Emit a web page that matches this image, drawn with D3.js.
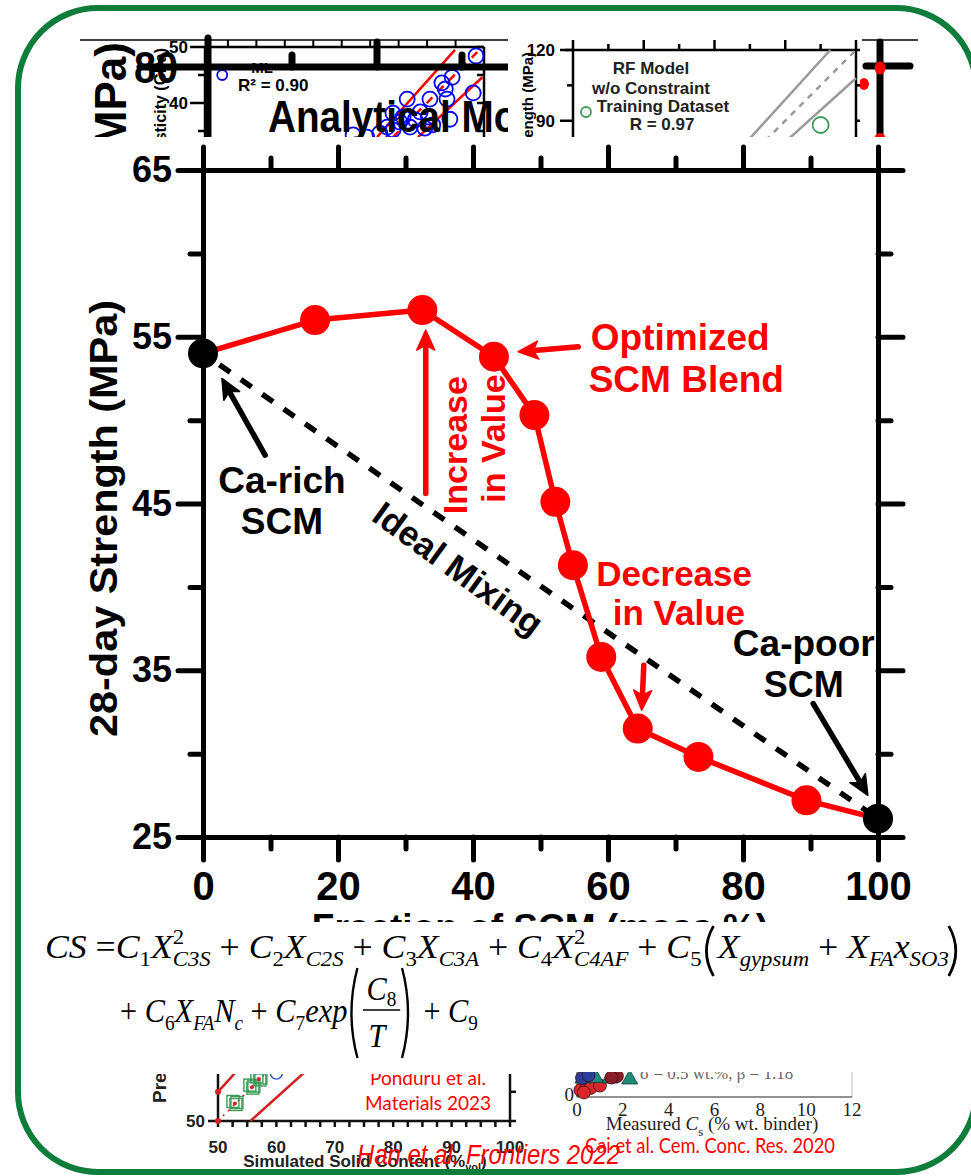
<!DOCTYPE html>
<html>
<head>
<meta charset="utf-8">
<script src="https://cdn.jsdelivr.net/npm/d3@7"></script>
<style>
  html, body { margin: 0; padding: 0; background: #fff; }
  svg { display: block; }
</style>
</head>
<body>
<script>
// ---------- main chart: 28-day strength vs. SCM fraction ----------
const scmFraction = [0, 16.6, 32.5, 43.1, 49.1, 52.2, 54.8, 59.0, 64.4, 73.4, 89.4, 100];
const strength28d = [54.0, 56.0, 56.6, 53.8, 50.3, 45.1, 41.3, 35.8, 31.5, 29.8, 27.2, 26.1];
const xTicksMajor = [0, 20, 40, 60, 80, 100];
const xTicksMinor = [10, 30, 50, 70, 90];
const yTicksMajor = [25, 35, 45, 55, 65];
const yTicksMinor = [30, 40, 50, 60];

// ---------- background panel: analytical model (elasticity) ----------
const elasMeasured  = [48.6, 44.4, 42.6, 43.2, 48.1, 40.5, 43.5, 36.5, 44.0, 40.2, 41.0, 34.0, 35.8, 37.0, 33.0, 34.0, 27.0, 29.4, 4.0, 37.9, 38.8, 35.2, 39.6, 31.7];
const elasPredicted = [48.4, 44.6, 43.6, 42.5, 41.8, 40.7, 40.7, 40.7, 37.1, 37.5, 36.1, 38.2, 37.5, 35.7, 35.7, 35.2, 34.3, 33.9, 45.0, 37.0, 38.4, 36.6, 35.5, 34.6];
const elasTicksTop = [5, 10, 15, 20, 25, 30, 35, 40, 45];

// ---------- background panel: RF model (strength) ----------
const rfMeasured  = [5.5, 105];
const rfPredicted = [93.7, 88.2];
const rfTicksMajor = [30, 60, 90];
const rfTicksMinor = [15, 45, 75, 105];

// ---------- background panel: solid content ----------
const solidSimulated = [52.9, 55.8, 57.0, 60.0];
const solidPredicted = [53.0, 55.8, 57.2, 58.2];
const solidTickLabels = [50, 60, 70, 80, 90, 100];

// ---------- background panel: measured Cs ----------
const csMeasured  = [0.15, 0.4, 0.6, 1.0, 0.3, 0.26, 1.43, 2.3, 0.8, 1.74, 1.5, 0.22, 0.5];
const csPredicted = [0.3, 0.35, 0.4, 0.5, 0.2, 0.87, 0.87, 0.83, 0.9, 0.91, 0.85, 0.83, 0.95];
const csGroup     = ["a", "a", "a", "a", "a", "b", "b", "b", "b", "c", "c", "d", "d"];
const csTickLabels = [0, 2, 4, 6, 8, 10, 12];

const W = 971, H = 1176;
const RED = "#ff0000";
const SANS = "'Liberation Sans', Arial, Helvetica, sans-serif";
const SERIF = "'Liberation Serif', 'Times New Roman', serif";
const CAL = "Lato, 'Open Sans', sans-serif";

const svg = d3.select("body").append("svg")
  .attr("width", W).attr("height", H)
  .style("font-family", SANS);

svg.append("rect").attr("width", W).attr("height", H).attr("fill", "#fff");

const defs = svg.append("defs");
function clip(id, x, y, w, h) {
  defs.append("clipPath").attr("id", id)
    .append("rect").attr("x", x).attr("y", y).attr("width", w).attr("height", h);
}
clip("clipTL", 78, 34, 430, 103);
clip("clipTR", 508, 34, 352, 103);
clip("clipCross", 860, 34, 70, 103);
clip("clipBL", 20, 1074, 520, 102);
clip("clipBR", 540, 1072, 431, 104);

// ======================= top-left panels =======================
(function elasticityPanel() {
  const g = svg.append("g").attr("clip-path", "url(#clipTL)");
  const bx = d3.scaleLinear().domain([1.5, 50]).range([208, 484]);
  const by = d3.scaleLinear().domain([30, 50]).range([159, 47]);

  g.append("line").attr("x1", 205).attr("x2", 484).attr("y1", by(50)).attr("y2", by(50))
    .attr("stroke", "#000").attr("stroke-width", 2.5);
  g.append("line").attr("x1", 484).attr("x2", 484).attr("y1", by(50)).attr("y2", 160)
    .attr("stroke", "#000").attr("stroke-width", 2.5);
  g.append("line").attr("x1", 205).attr("x2", 205).attr("y1", by(50)).attr("y2", 160)
    .attr("stroke", "#000").attr("stroke-width", 2.5);
  g.selectAll("line.tt").data(elasTicksTop).join("line")
    .attr("x1", d => bx(d)).attr("x2", d => bx(d))
    .attr("y1", by(50)).attr("y2", by(50) - 7)
    .attr("stroke", "#000").attr("stroke-width", 2);
  [50, 45, 40, 35].forEach(v => {
    const major = v % 10 === 0;
    g.append("line").attr("x1", major ? 190 : 198).attr("x2", 205)
      .attr("y1", by(v)).attr("y2", by(v)).attr("stroke", "#000").attr("stroke-width", 2.5);
    g.append("line").attr("x1", 484).attr("x2", 477)
      .attr("y1", by(v)).attr("y2", by(v)).attr("stroke", "#000").attr("stroke-width", 2.5);
    if (major) g.append("text").attr("x", 188).attr("y", by(v) + 6).attr("text-anchor", "end")
      .attr("font-size", 17).attr("font-weight", "bold").text(v);
  });
  g.append("text").attr("transform", "translate(166,48) rotate(-90)")
    .attr("text-anchor", "end").attr("font-size", 16).attr("font-weight", "bold")
    .text("Elasticity (GPa)");
  g.append("text").attr("x", 262).attr("y", 73).attr("text-anchor", "middle")
    .attr("font-size", 15).attr("font-weight", "bold").text("ML");
  g.append("text").attr("x", 238).attr("y", 91).attr("font-size", 17).attr("font-weight", "bold")
    .text("R² = 0.90");

  // reference lines
  const ref = [
    { a: [31.2, 33.9], b: [44.9, 49.5], dash: null },
    { a: [34.0, 33.9], b: [48.8, 49.1], dash: "8,8" },
    { a: [38.4, 33.9], b: [49.7, 44.6], dash: null }
  ];
  ref.forEach(r => g.append("line")
    .attr("x1", bx(r.a[0])).attr("y1", by(r.a[1])).attr("x2", bx(r.b[0])).attr("y2", by(r.b[1]))
    .attr("stroke", RED).attr("stroke-width", 2.5).attr("stroke-dasharray", r.dash));

  g.selectAll("circle.e").data(elasMeasured).join("circle")
    .attr("cx", d => bx(d)).attr("cy", (d, i) => by(elasPredicted[i]))
    .attr("r", (d, i) => i === 18 ? 5 : 7.5)
    .attr("fill", "none").attr("stroke", "#0000ff").attr("stroke-width", 1.8);
})();

(function strengthBackdrop() {
  // bold strength panel lying underneath
  const g = svg.append("g").attr("clip-path", "url(#clipTL)");
  g.append("line").attr("x1", 80).attr("x2", 508).attr("y1", 40).attr("y2", 40)
    .attr("stroke", "#000").attr("stroke-width", 1.5);
  g.append("line").attr("x1", 208).attr("x2", 208).attr("y1", 38).attr("y2", 160)
    .attr("stroke", "#000").attr("stroke-width", 7).attr("stroke-linecap", "round");
  g.append("line").attr("x1", 140).attr("x2", 520).attr("y1", 67).attr("y2", 67)
    .attr("stroke", "#000").attr("stroke-width", 7).attr("stroke-linecap", "round");
  [[292, 55], [377, 42], [462, 55]].forEach(([tx, ty]) =>
    g.append("line").attr("x1", tx).attr("x2", tx).attr("y1", ty).attr("y2", 67)
      .attr("stroke", "#000").attr("stroke-width", 7).attr("stroke-linecap", "round"));
  g.append("text").attr("transform", "translate(178,83) scale(0.9,1)").attr("text-anchor", "end")
    .attr("font-size", 44).attr("font-weight", "bold").text("80");
  g.append("text").attr("transform", "translate(126,42) rotate(-90)")
    .attr("text-anchor", "end").attr("font-size", 44).attr("font-weight", "bold")
    .text("(MPa)");
  g.append("text").attr("transform", "translate(268,132) scale(0.86,1)")
    .attr("font-size", 45).attr("font-weight", "bold").text("Analytical Mo");
})();

// ======================= top-right panel =======================
(function rfPanel() {
  const g = svg.append("g").attr("clip-path", "url(#clipTR)");
  const rx = d3.scaleLinear().domain([0, 120]).range([573, 856]);
  const ry = d3.scaleLinear().domain([0, 120]).range([333, 50]);
  const k = "#000";
  g.append("line").attr("x1", 565).attr("x2", 856).attr("y1", 50).attr("y2", 50).attr("stroke", k).attr("stroke-width", 2.5);
  g.append("line").attr("x1", 573).attr("x2", 573).attr("y1", 40).attr("y2", 160).attr("stroke", k).attr("stroke-width", 2.5);
  g.append("line").attr("x1", 856).attr("x2", 856).attr("y1", 40).attr("y2", 160).attr("stroke", k).attr("stroke-width", 2.5);
  g.selectAll("line.mj").data(rfTicksMajor).join("line")
    .attr("x1", d => rx(d)).attr("x2", d => rx(d)).attr("y1", 50).attr("y2", 40)
    .attr("stroke", k).attr("stroke-width", 2.5);
  g.selectAll("line.mn").data(rfTicksMinor).join("line")
    .attr("x1", d => rx(d)).attr("x2", d => rx(d)).attr("y1", 50).attr("y2", 44)
    .attr("stroke", k).attr("stroke-width", 2.5);
  [[120, 13], [105, 6], [90, 13]].forEach(([v, len]) => {
    g.append("line").attr("x1", 573 - len).attr("x2", 573).attr("y1", ry(v)).attr("y2", ry(v)).attr("stroke", k).attr("stroke-width", 2.5);
    g.append("line").attr("x1", 856).attr("x2", 856 + len).attr("y1", ry(v)).attr("y2", ry(v)).attr("stroke", k).attr("stroke-width", 2.5);
  });
  [120, 90].forEach(v => g.append("text").attr("x", 555).attr("y", ry(v) + 6).attr("text-anchor", "end")
    .attr("font-size", 17).attr("font-weight", "bold").text(v));
  g.append("text").attr("transform", "translate(533,52) rotate(-90)")
    .attr("text-anchor", "end").attr("font-size", 15).attr("font-weight", "bold")
    .text("Strength (MPa)");
  [["RF Model", 651, 74], ["w/o Constraint", 651, 94], ["Training Dataset", 663, 112], ["R = 0.97", 662, 130], ["Testing Dataset", 663, 150]]
    .forEach(([t, cx, cy]) => g.append("text").attr("x", cx).attr("y", cy).attr("text-anchor", "middle")
      .attr("font-size", 17).attr("font-weight", "bold").attr("fill", "#222").text(t));
  [[1.1, null], [1.0, "6,6"], [0.9, null]].forEach(([f, dash]) => g.append("line")
    .attr("x1", rx(60)).attr("y1", ry(60 * f)).attr("x2", rx(120 / Math.max(f, 1))).attr("y2", ry(120 / Math.max(f, 1) * f))
    .attr("stroke", "#9a9a9a").attr("stroke-width", 2.5).attr("stroke-dasharray", dash));
  g.selectAll("circle.rf").data(rfMeasured).join("circle")
    .attr("cx", d => rx(d)).attr("cy", (d, i) => ry(rfPredicted[i]))
    .attr("r", (d, i) => i === 0 ? 5 : 8)
    .attr("fill", "none").attr("stroke", "#3f9a5c").attr("stroke-width", 1.8);
})();

(function crossPanel() {
  const g = svg.append("g").attr("clip-path", "url(#clipCross)");
  g.append("line").attr("x1", 862).attr("x2", 918).attr("y1", 40).attr("y2", 40).attr("stroke", "#000").attr("stroke-width", 1.5);
  g.append("line").attr("x1", 880).attr("x2", 880).attr("y1", 42).attr("y2", 160).attr("stroke", "#000").attr("stroke-width", 7).attr("stroke-linecap", "round");
  g.append("line").attr("x1", 866).attr("x2", 910).attr("y1", 66).attr("y2", 66).attr("stroke", "#000").attr("stroke-width", 7).attr("stroke-linecap", "round");
  [[880, 68, 5.5], [864, 84, 5], [880, 140, 6]].forEach(([cx, cy, r]) =>
    g.append("ellipse").attr("cx", cx).attr("cy", cy).attr("rx", r).attr("ry", r + 1).attr("fill", RED));
})();

// ======================= bottom panels =======================
(function solidPanel() {
  const g = svg.append("g").attr("clip-path", "url(#clipBL)");
  const sx = d3.scaleLinear().domain([50, 100]).range([218, 510]);
  const sy = d3.scaleLinear().domain([50, 100]).range([1121, 829]);
  const k = "#111";
  g.append("line").attr("x1", 208).attr("x2", 516).attr("y1", 1121).attr("y2", 1121).attr("stroke", k).attr("stroke-width", 2.5);
  g.append("line").attr("x1", 218).attr("x2", 218).attr("y1", 1050).attr("y2", 1121).attr("stroke", k).attr("stroke-width", 2.5);
  g.append("line").attr("x1", 510).attr("x2", 510).attr("y1", 1050).attr("y2", 1121).attr("stroke", k).attr("stroke-width", 2.5);
  g.append("line").attr("x1", 510).attr("x2", 516).attr("y1", sy(55)).attr("y2", sy(55)).attr("stroke", k).attr("stroke-width", 2.5);
  g.selectAll("line.st").data(d3.range(50, 100.1, 2.5)).join("line")
    .attr("x1", d => sx(d)).attr("x2", d => sx(d)).attr("y1", 1121).attr("y2", 1127)
    .attr("stroke", k).attr("stroke-width", 2.5);
  g.selectAll("text.sl").data(solidTickLabels).join("text")
    .attr("x", d => sx(d)).attr("y", 1153).attr("text-anchor", "middle")
    .attr("font-size", 17).attr("font-weight", "bold").attr("fill", "#222").text(d => d);
  g.append("text").attr("x", 205).attr("y", 1127).attr("text-anchor", "end")
    .attr("font-size", 17).attr("font-weight", "bold").attr("fill", "#222").text("50");
  const xl = g.append("text").attr("x", 365).attr("y", 1167).attr("text-anchor", "middle")
    .attr("font-size", 17).attr("font-weight", "bold").attr("fill", "#222");
  xl.append("tspan").text("Simulated Solid Content (%");
  xl.append("tspan").attr("font-size", 11).attr("dy", 4).text("vol");
  xl.append("tspan").attr("dy", -4).text(")");
  g.append("text").attr("transform", "translate(166,1103) rotate(-90)")
    .attr("font-size", 19).attr("font-weight", "bold").attr("fill", "#222")
    .text("Pred");
  // ±10% bounds and 1:1 line
  [1.1, 0.9].forEach(f => g.append("line")
    .attr("x1", sx(50 / Math.min(f, 1))).attr("y1", sy(50 / Math.min(f, 1) * f))
    .attr("x2", sx(80)).attr("y2", sy(80 * f))
    .attr("stroke", "#d42020").attr("stroke-width", 2.5));
  g.append("line").attr("x1", sx(50)).attr("y1", sy(50)).attr("x2", sx(80)).attr("y2", sy(80))
    .attr("stroke", "#d42020").attr("stroke-width", 1.5).attr("stroke-dasharray", "2,5");
  g.append("circle").attr("cx", sx(50)).attr("cy", sy(50)).attr("r", 3).attr("fill", "#d42020");
  g.append("circle").attr("cx", sx(50)).attr("cy", sy(55)).attr("r", 3).attr("fill", "#d42020");
  solidSimulated.forEach((v, i) => {
    const cx = sx(v), cy = sy(solidPredicted[i]);
    if (i < 3) {
      [[-2, -2], [1, 1], [2, -1]].forEach(([ox, oy]) =>
        g.append("rect").attr("x", cx - 6 + ox).attr("y", cy - 6 + oy).attr("width", 12).attr("height", 12)
          .attr("fill", "none").attr("stroke", "#3a9a55").attr("stroke-width", 1.4));
      g.append("circle").attr("cx", cx).attr("cy", cy).attr("r", 2).attr("fill", "#d42020");
    } else {
      g.append("circle").attr("cx", cx).attr("cy", cy).attr("r", 6).attr("fill", "none").attr("stroke", "#3050c0").attr("stroke-width", 1.4);
    }
  });
  g.append("text").attr("x", 428).attr("y", 1085).attr("text-anchor", "middle")
    .attr("font-family", CAL).attr("font-size", 19).attr("fill", RED).text("Ponduru et al.");
  g.append("text").attr("x", 428).attr("y", 1110).attr("text-anchor", "middle")
    .attr("font-family", CAL).attr("font-size", 19).attr("fill", RED).text("Materials 2023");
})();

(function csPanel() {
  const g = svg.append("g").attr("clip-path", "url(#clipBR)");
  const cx = d3.scaleLinear().domain([0, 12]).range([577, 852]);
  const cy = d3.scaleLinear().domain([0, 12]).range([1097, 822]);
  g.append("rect").attr("x", 577).attr("y", 1000).attr("width", 275).attr("height", 97)
    .attr("fill", "none").attr("stroke", "#c8c8c8").attr("stroke-width", 1.2);
  g.append("line").attr("x1", 577).attr("x2", 852).attr("y1", 1097).attr("y2", 1097).attr("stroke", "#444").attr("stroke-width", 1);
  g.append("line").attr("x1", 577).attr("x2", 577).attr("y1", 1000).attr("y2", 1097).attr("stroke", "#444").attr("stroke-width", 1);
  g.selectAll("text.cl").data(csTickLabels).join("text")
    .attr("x", d => cx(d)).attr("y", 1116).attr("text-anchor", "middle")
    .attr("font-family", SERIF).attr("font-size", 19).attr("fill", "#222").text(d => d);
  g.append("text").attr("x", 574).attr("y", 1101).attr("text-anchor", "end")
    .attr("font-family", SERIF).attr("font-size", 19).attr("fill", "#222").text("0");
  const xl = g.append("text").attr("x", 712).attr("y", 1130).attr("text-anchor", "middle")
    .attr("font-family", SERIF).attr("font-size", 19).attr("fill", "#222");
  xl.append("tspan").text("Measured ");
  xl.append("tspan").attr("font-style", "italic").text("C");
  xl.append("tspan").attr("font-size", 13).attr("dy", 6).text("s");
  xl.append("tspan").attr("dy", -6).text(" (% wt. binder)");
  g.append("text").attr("x", 640).attr("y", 1079).attr("font-family", SERIF).attr("font-size", 17)
    .attr("fill", "#666").text("σ = 0.5 wt.%, β = 1.18");
  const fills = { a: "#d8262b", b: "#1f8a78", c: "#8a1c2a", d: "#2b3f9a" };
  csMeasured.forEach((v, i) => {
    const px = cx(v), py = cy(csPredicted[i]), grp = csGroup[i];
    if (grp === "b") {
      g.append("path").attr("d", `M${px},${py - 8}L${px + 8},${py + 6}L${px - 8},${py + 6}Z`)
        .attr("fill", fills[grp]).attr("stroke", "#0a3a30").attr("stroke-width", 0.8);
    } else {
      g.append("circle").attr("cx", px).attr("cy", py).attr("r", 6.5)
        .attr("fill", fills[grp]).attr("stroke", "#3a0a0a").attr("stroke-width", 0.8);
    }
  });
  g.append("text").attr("x", 585).attr("y", 1153).attr("font-family", CAL).attr("font-size", 21)
    .attr("fill", RED).attr("textLength", 250).attr("lengthAdjust", "spacingAndGlyphs")
    .text("Cai et al. Cem. Conc. Res. 2020");
})();

// ======================= main chart =======================
svg.append("rect").attr("x", 20).attr("y", 137).attr("width", W - 20).attr("height", 785).attr("fill", "#fff");

const x = d3.scaleLinear().domain([0, 100]).range([203, 878]);
const y = d3.scaleLinear().domain([25, 65]).range([837, 170]);
const main = svg.append("g");

function styleAxis(g, fontSize) {
  g.selectAll("path, line").attr("stroke", "#000").attr("stroke-width", 5).attr("stroke-linecap", "round");
  g.selectAll("text").attr("fill", "#000").attr("font-family", SANS)
    .attr("font-size", fontSize).attr("font-weight", "bold");
}
const xAxisY = y(25), yAxisX = x(0), topY = y(65), rightX = x(100);
main.append("g").attr("transform", `translate(0,${xAxisY})`)
  .call(d3.axisBottom(x).tickValues(xTicksMinor).tickSize(12).tickSizeOuter(0).tickFormat(""))
  .call(g => styleAxis(g, 0));
main.append("g").attr("transform", `translate(0,${xAxisY})`)
  .call(d3.axisBottom(x).tickValues(xTicksMajor).tickSize(23).tickSizeOuter(0).tickPadding(12).tickFormat(d3.format("d")))
  .call(g => styleAxis(g, 40));
main.append("g").attr("transform", `translate(0,${topY})`)
  .call(d3.axisTop(x).tickValues(xTicksMinor).tickSize(12).tickSizeOuter(0).tickFormat(""))
  .call(g => styleAxis(g, 0));
main.append("g").attr("transform", `translate(0,${topY})`)
  .call(d3.axisTop(x).tickValues(xTicksMajor).tickSize(23).tickSizeOuter(0).tickFormat(""))
  .call(g => styleAxis(g, 0));
main.append("g").attr("transform", `translate(${yAxisX},0)`)
  .call(d3.axisLeft(y).tickValues(yTicksMinor).tickSize(13).tickSizeOuter(0).tickFormat(""))
  .call(g => styleAxis(g, 0));
main.append("g").attr("transform", `translate(${yAxisX},0)`)
  .call(d3.axisLeft(y).tickValues(yTicksMajor).tickSize(25).tickSizeOuter(0).tickPadding(6).tickFormat(d3.format("d")))
  .call(g => styleAxis(g, 36));
main.append("g").attr("transform", `translate(${rightX},0)`)
  .call(d3.axisRight(y).tickValues(yTicksMinor).tickSize(13).tickSizeOuter(0).tickFormat(""))
  .call(g => styleAxis(g, 0));
main.append("g").attr("transform", `translate(${rightX},0)`)
  .call(d3.axisRight(y).tickValues(yTicksMajor).tickSize(25).tickSizeOuter(0).tickFormat(""))
  .call(g => styleAxis(g, 0));

// axis titles
main.append("text").attr("transform", `translate(117,${(y(25) + y(65)) / 2 + 15}) rotate(-90)`)
  .attr("text-anchor", "middle").attr("font-size", 38).attr("font-weight", "bold")
  .attr("textLength", 437).attr("lengthAdjust", "spacingAndGlyphs")
  .text("28-day Strength (MPa)");
main.append("text").attr("x", 540).attr("y", 940).attr("text-anchor", "middle")
  .attr("font-size", 37).attr("font-weight", "bold").text("Fraction of SCM (mass %)");

// ideal mixing line between the two end members
const last = scmFraction.length - 1;
main.append("line")
  .attr("x1", x(scmFraction[0])).attr("y1", y(strength28d[0]))
  .attr("x2", x(scmFraction[last])).attr("y2", y(strength28d[last]))
  .attr("stroke", "#000").attr("stroke-width", 5.5).attr("stroke-dasharray", "13,13")
  .attr("stroke-dashoffset", -20);

// blend curve
main.append("path")
  .datum(scmFraction.map((f, i) => [f, strength28d[i]]))
  .attr("fill", "none").attr("stroke", RED).attr("stroke-width", 5.5).attr("stroke-linejoin", "round")
  .attr("d", d3.line().x(d => x(d[0])).y(d => y(d[1])));
main.selectAll("circle.pt").data(scmFraction).join("circle")
  .attr("cx", d => x(d)).attr("cy", (d, i) => y(strength28d[i]))
  .attr("r", 15)
  .attr("fill", (d, i) => (i === 0 || i === last) ? "#000" : RED);

// annotation arrows
function arrow(from, to, color) {
  const x1 = x(from[0]), y1 = y(from[1]), x2 = x(to[0]), y2 = y(to[1]);
  const a = Math.atan2(y2 - y1, x2 - x1), c = Math.cos(a), s = Math.sin(a);
  const hl = 20, hw = 9;
  const bx = x2 - hl * c, by = y2 - hl * s;
  main.append("line").attr("x1", x1).attr("y1", y1).attr("x2", x2 - 10 * c).attr("y2", y2 - 10 * s)
    .attr("stroke", color).attr("stroke-width", 5.5).attr("stroke-linecap", "round");
  main.append("path")
    .attr("d", `M${x2},${y2}L${bx - hw * s},${by + hw * c}L${x2 - 0.75 * hl * c},${y2 - 0.75 * hl * s}L${bx + hw * s},${by - hw * c}Z`)
    .attr("fill", color).attr("stroke", color).attr("stroke-width", 1.5).attr("stroke-linejoin", "round");
}
arrow([9.2, 47.9], [2.8, 52.5], "#000");
arrow([33.0, 45.6], [33.0, 55.4], RED);
arrow([55.6, 54.4], [46.7, 54.1], RED);
arrow([65.3, 35.3], [65.0, 32.6], RED);
arrow([90.4, 33.0], [98.5, 27.5], "#000");

// annotation labels
function label(t, fx, fy, color, size, rot) {
  return main.append("text")
    .attr("transform", `translate(${x(fx)},${y(fy)})` + (rot ? ` rotate(${rot})` : ""))
    .attr("text-anchor", "middle").attr("font-size", size).attr("font-weight", "bold")
    .attr("fill", color).text(t);
}
label("Ca-rich", 11.7, 45.6, "#000", 37);
label("SCM", 11.7, 43.2, "#000", 37);
label("Optimized", 70.7, 54.2, RED, 37);
label("SCM Blend", 71.6, 51.7, RED, 37);
label("Decrease", 69.8, 40.05, RED, 35);
label("in Value", 70.5, 37.7, RED, 35);
label("Ca-poor", 89.0, 35.85, "#000", 37);
label("SCM", 89.0, 33.4, "#000", 36);
label("Increase", 39.1, 48.5, RED, 34, -90);
label("in Value", 44.7, 48.9, RED, 34, -90);
label("Ideal Mixing", 37.8, 41.1, "#000", 35, 36).attr("dy", "0.35em");

// ======================= strength equation =======================
svg.append("rect").attr("x", 20).attr("y", 922).attr("width", W - 20).attr("height", 150).attr("fill", "#fff");
const eq = svg.append("g");
const MAIN = 33, SUB = 21;

function paren(g, px, top, bot, open) {
  const w = 11, mid = (top + bot) / 2;
  const xo = open ? px + w : px, xi = open ? px : px + w;
  g.append("path")
    .attr("d", `M${xo},${top}Q${xi - (open ? 2 : -2)},${mid} ${xo},${bot}`)
    .attr("fill", "none").attr("stroke", "#000").attr("stroke-width", 2.6);
  return w + 4;
}

function writeLine(g, x0, base, tokens) {
  let cx = x0;
  function put(t, xx, yy, size, italic) {
    const n = g.append("text").attr("x", xx).attr("y", yy).attr("font-family", SERIF)
      .attr("font-size", size).attr("font-style", italic ? "italic" : "normal")
      .attr("xml:space", "preserve").style("white-space", "pre")
      .attr("fill", "#000").text(t);
    return n.node().getComputedTextLength();
  }
  tokens.forEach(tk => {
    if (tk.m !== undefined) cx += put(tk.m, cx, base, MAIN, true);
    else if (tk.u !== undefined) cx += put(tk.u, cx, base, MAIN, false);
    else if (tk.sub !== undefined && tk.sup !== undefined) {
      const a = put(tk.sup, cx, base - 14, SUB, false);
      const b = put(tk.sub, cx, base + 8, SUB, true);
      cx += Math.max(a, b);
    } else if (tk.sub !== undefined) cx += put(tk.sub, cx, base + 8, SUB, !/^\d+$/.test(tk.sub));
    else if (tk.p !== undefined) cx += paren(g, cx, tk.top, tk.bot, tk.p === "(");
    else if (tk.frac) {
      const nw = put("C", cx + 6, base - 22, MAIN, true);
      const sw = put("8", cx + 6 + nw, base - 16, SUB, false);
      const tw = put("T", cx + 8, base + 25, MAIN, true);
      const fw = Math.max(nw + sw, tw) + 12;
      g.append("line").attr("x1", cx + 2).attr("x2", cx + fw - 2).attr("y1", base - 12).attr("y2", base - 12)
        .attr("stroke", "#000").attr("stroke-width", 1.6);
      cx += fw;
    }
  });
  return cx - x0;
}

const line1 = eq.append("g");
const w1 = writeLine(line1, 45, 958, [
  { m: "CS" }, { u: " =" }, { m: "C" }, { sub: "1" }, { m: "X" }, { sup: "2", sub: "C3S" },
  { u: " + " }, { m: "C" }, { sub: "2" }, { m: "X" }, { sub: "C2S" },
  { u: " + " }, { m: "C" }, { sub: "3" }, { m: "X" }, { sub: "C3A" },
  { u: " + " }, { m: "C" }, { sub: "4" }, { m: "X" }, { sup: "2", sub: "C4AF" },
  { u: " + " }, { m: "C" }, { sub: "5" }, { p: "(", top: 926, bot: 976 },
  { m: "X" }, { sub: "gypsum" }, { u: " + " }, { m: "X" }, { sub: "FA" }, { m: "x" }, { sub: "SO3" },
  { p: ")", top: 926, bot: 976 }
]);
line1.attr("transform", `translate(45,0) scale(${920 / w1},1) translate(-45,0)`);

const line2 = eq.append("g");
const w2 = writeLine(line2, 120, 1022, [
  { u: "+ " }, { m: "C" }, { sub: "6" }, { m: "X" }, { sub: "FA" }, { m: "N" }, { sub: "c" },
  { u: " + " }, { m: "C" }, { sub: "7" }, { m: "exp" }, { p: "(", top: 968, bot: 1058 },
  { frac: true }, { p: ")", top: 968, bot: 1058 }, { u: " + " }, { m: "C" }, { sub: "9" }
]);
line2.attr("transform", `translate(120,0) scale(${358 / w2},1) translate(-120,0)`);

// ======================= citations & frame =======================
svg.append("text").attr("x", 357).attr("y", 1164).attr("font-size", 27).attr("font-style", "italic")
  .attr("fill", RED).attr("textLength", 263).attr("lengthAdjust", "spacingAndGlyphs")
  .text("Han et al. Frontiers 2022");

svg.append("rect").attr("x", 18).attr("y", 8).attr("width", 958).attr("height", 1164).attr("rx", 80)
  .attr("fill", "none").attr("stroke", "#0e7c3b").attr("stroke-width", 6);
</script>
</body>
</html>
